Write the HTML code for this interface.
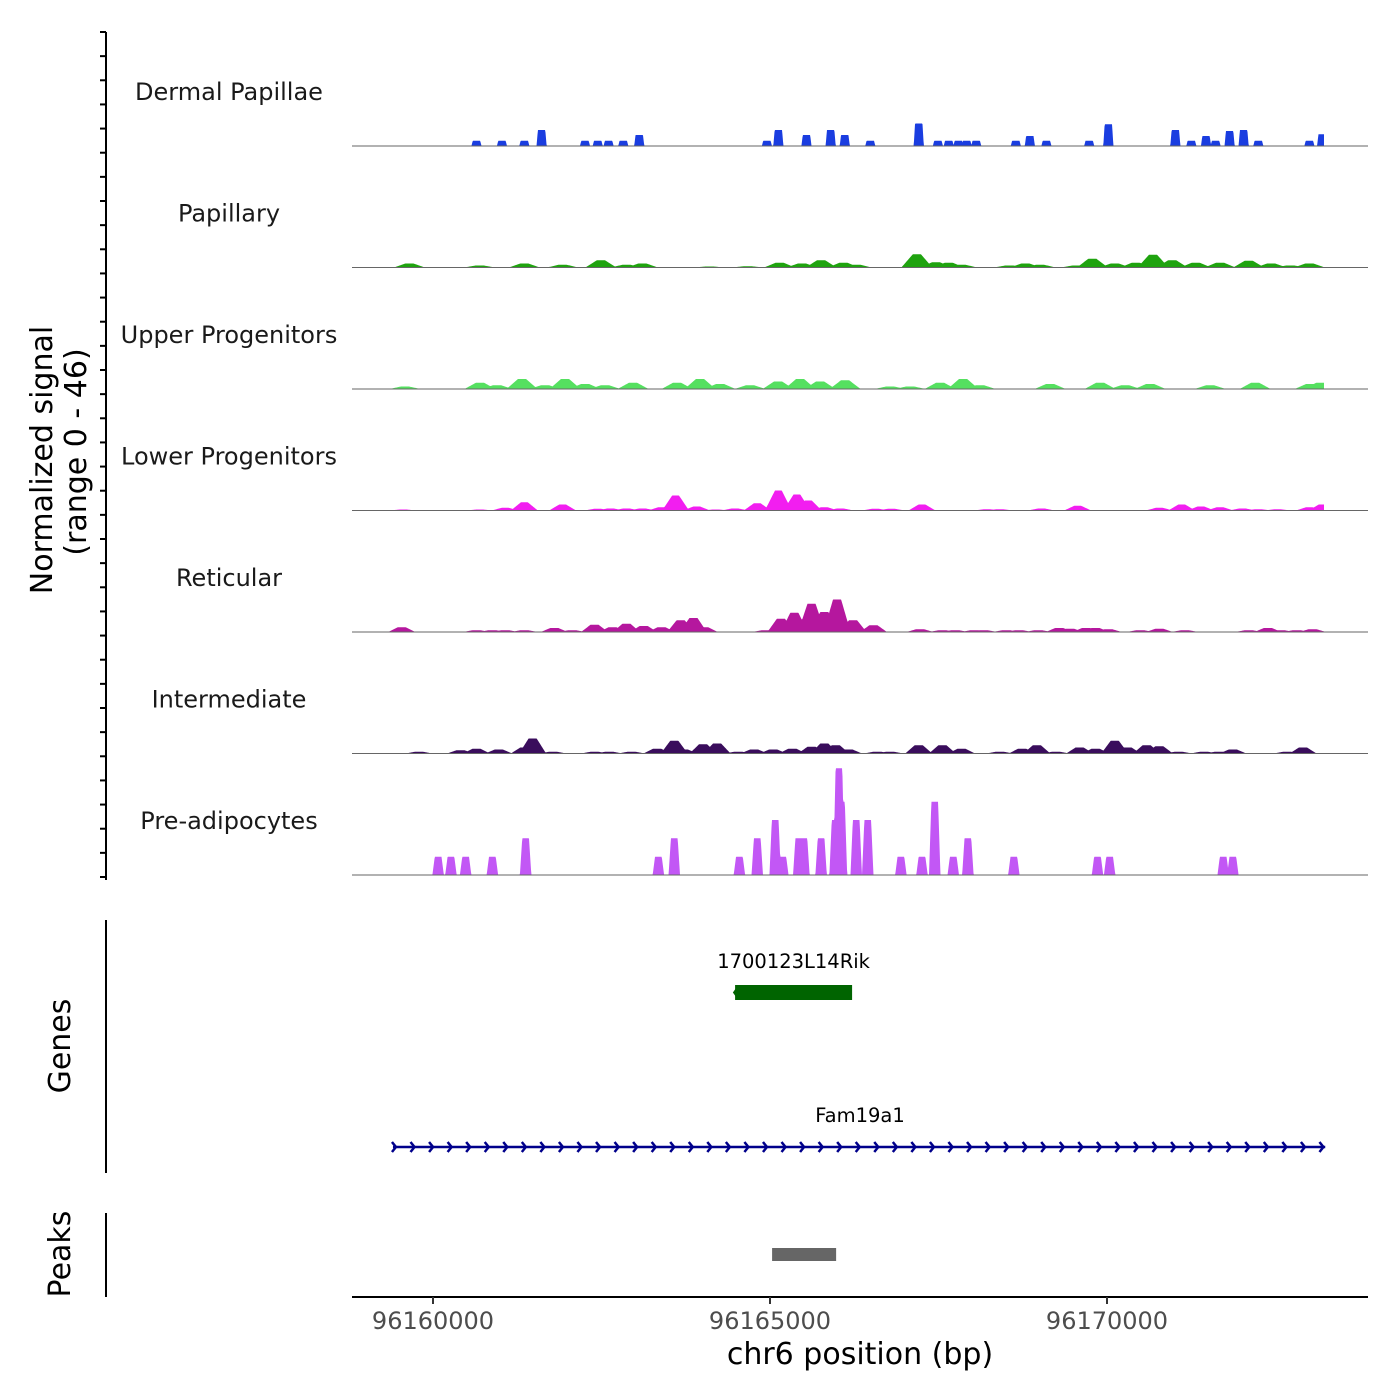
<!DOCTYPE html>
<html><head><meta charset="utf-8"><style>
html,body{margin:0;padding:0;background:#fff;}
svg{display:block;font-family:"DejaVu Sans","Liberation Sans",sans-serif;}
</style></head><body>
<svg id="chart" width="1400" height="1400" viewBox="0 0 1400 1400" xmlns="http://www.w3.org/2000/svg">
<rect x="0" y="0" width="1400" height="1400" fill="#fff"/>
<g id="tracks"></g>
<line x1="106" y1="32" x2="106" y2="880" stroke="#000" stroke-width="2"/>
<g id="yticks"></g>
<text transform="translate(52,460) rotate(-90)" text-anchor="middle" font-size="30" fill="#000">Normalized signal</text>
<text transform="translate(86,452) rotate(-90)" text-anchor="middle" font-size="30" fill="#000">(range 0 - 46)</text>
<line x1="106" y1="920" x2="106" y2="1173" stroke="#000" stroke-width="2"/>
<text transform="translate(70,1046) rotate(-90)" text-anchor="middle" font-size="30" fill="#000">Genes</text>
<line x1="106" y1="1213" x2="106" y2="1297" stroke="#000" stroke-width="2"/>
<text transform="translate(70,1254) rotate(-90)" text-anchor="middle" font-size="30" fill="#000">Peaks</text>
<g id="genes"></g>
<g id="peaks"></g>
<line x1="352" y1="1297" x2="1368" y2="1297" stroke="#000" stroke-width="2"/>
<g id="xticks"></g>
<text x="860" y="1364" text-anchor="middle" font-size="30" fill="#000">chr6 position (bp)</text>
</svg>
<script>
const origin = 96160000;
const xTickValues = [96160000, 96165000, 96170000];
const trackNames = ["Dermal Papillae","Papillary","Upper Progenitors","Lower Progenitors","Reticular","Intermediate","Pre-adipocytes"];
const trackColors = ["#1a3de0","#1fa30f","#55e060","#f21ef0","#b5179e","#3a0d5c","#c257f5"];
const dpPos = [645,1023,1355,1611,2255,2444,2605,2823,3060,4954,5124,5541,5900,6109,6488,7207,7491,7652,7795,7918,8060,8647,8855,9101,9736,10020,11014,11251,11469,11611,11819,12027,12245,13003,13192];
const dpVal = [2.1,2.1,2.1,6.4,2.1,2.1,2.1,2.1,4.4,2.1,6.4,4.4,6.4,4.4,2.1,9,2.1,2.1,2.1,2.1,2.1,2.1,4,2.1,2.1,8.7,6.4,2.1,4,2.1,6,6.4,2.1,2.1,4.7];
const papPos = [-350,692,1355,1923,2491,2870,3107,4101,4669,5143,5474,5758,6090,6279,7179,7463,7652,7842,8552,8789,9007,9547,9783,10115,10427,10683,10967,11317,11677,12103,12435,12719,13003];
const papVal = [1.6,0.8,1.6,1.1,2.9,1.1,1.6,0.4,0.5,1.9,1.6,2.9,1.9,1.1,5.3,2.1,1.9,1.1,0.8,1.6,1.1,0.8,3.5,1.6,1.9,5.1,2.9,1.9,1.9,2.7,1.6,0.8,1.6];
const upPos = [-416,697,950,1321,1662,1959,2256,2552,2968,3621,3962,4259,4704,5120,5446,5743,6114,6782,7079,7524,7865,8117,9156,9898,10269,10640,11530,12198,13014,13163];
const upVal = [1,2.5,1.5,4,1.5,4,2,1.5,2.5,2.5,4,2,1.5,3,4,3,3.5,1,1,2.5,4,1.5,2,2.5,1.5,2,1.5,2.5,2,2.5];
const lowPos = [-444,692,1071,1355,1923,2444,2633,2870,3107,3391,3599,3912,4196,4480,4811,5124,5399,5569,5806,6043,6563,6800,7255,8221,8410,9026,9565,10777,11109,11393,11677,12009,12245,12530,13003,13192];
const lowVal = [0.4,0.4,1.1,3.3,2.4,0.7,0.8,0.8,0.8,1.3,6,1.6,0.4,0.8,2.9,8,6.4,4,1.3,0.8,0.7,0.7,2.4,0.5,0.5,0.8,1.9,1.1,2.4,1.6,1.3,0.8,0.5,0.5,1.3,2.4];
const retPos = [-463,645,881,1071,1355,1800,2065,2397,2662,2870,3126,3391,3675,3864,4025,4935,5162,5361,5500,5616,5806,5995,6232,6535,7226,7558,7747,8031,8173,8505,8694,8978,9291,9452,9689,9831,10020,10493,10777,11156,12103,12387,12577,12814,13050];
const retVal = [1.9,0.7,0.7,0.7,0.7,1.6,0.7,2.9,1.9,3.3,2.4,1.9,4.7,5.6,1.9,0.7,5.3,7.7,5,11.3,8,13,4.7,2.7,1.1,0.7,0.7,0.7,0.7,0.7,0.7,0.7,1.6,1.3,1.6,1.6,1.1,0.7,1.3,0.7,0.7,1.6,0.7,0.7,1.1];
const intPos = [-208,408,645,976,1355,1478,1781,2397,2614,2946,3325,3580,3722,4007,4215,4527,4764,5048,5332,5616,5806,5976,6165,6592,6781,7207,7558,7842,8410,8741,8959,9243,9594,9831,10115,10304,10588,10777,11062,11440,11658,11867,12672,12908];
const intVal = [0.7,1.3,1.9,1.6,2.4,6,0.7,0.7,0.7,0.7,1.9,5.1,1.6,3.7,4,0.7,1.6,1.6,1.9,2.7,4,3.3,1.6,0.7,0.7,3.3,3.3,1.9,0.7,1.9,3.3,0.7,2.4,1.9,5.1,2.4,3.3,2.9,0.7,0.7,0.7,1.6,0.7,2.4];
const prePos = [76,266,484,881,1374,3344,3580,4546,4811,5077,5190,5427,5503,5758,5966,6023,6060,6279,6450,6942,7255,7444,7719,7936,8618,9859,10039,11724,11867];
const preVal = [7.3,7.3,7.3,7.3,14.7,7.3,14.7,7.3,14.7,22,7.3,14.7,14.7,14.7,22,42.7,29.3,22,22,7.3,7.3,29.3,7.3,14.7,7.3,7.3,7.3,7.3,7.3];
const geneStarts = [4482,-594];
const geneEnds = [6218,13238];
const geneNames = ["1700123L14Rik","Fam19a1"];
const peakStarts = [5031];
const peakEnds = [5981];

const NS="http://www.w3.org/2000/svg";
function el(tag, attrs, parent){const e=document.createElementNS(NS,tag);for(const k in attrs)e.setAttribute(k,attrs[k]);parent.appendChild(e);return e;}
const xScale = bp => 433 + (bp - origin) * 0.0674;
const yUnit = 2.5;
const baselines = [146,267.5,389,510.5,632,753.5,875];
const trackPos = [dpPos,papPos,upPos,lowPos,retPos,intPos,prePos];
const trackVal = [dpVal,papVal,upVal,lowVal,retVal,intVal,preVal];
const shapeHW = [75,230,230,200,200,200,85];
const shapeSlope = [20,170,170,150,140,140,35];
const tracksG = document.getElementById('tracks');
for(let t=0;t<7;t++){
  const b = baselines[t];
  const lab = el('text',{x:229,y:b-46,'text-anchor':'middle','font-size':'24',fill:'#1a1a1a'},tracksG);
  
  
  lab.textContent = trackNames[t];
  let d = 'M352,'+b;
  for(let px=352; px<=1324; px+=0.5){
    const bp = origin + (px-433)/0.0674;
    let v=0;
    const P=trackPos[t], V=trackVal[t];
    for(let i=0;i<P.length;i++){
      const dist=Math.abs(bp-(origin+P[i]));
      const f=Math.max(0,Math.min(1,(shapeHW[t]-dist)/shapeSlope[t]));
      if(V[i]*f>v)v=V[i]*f;
    }
    d+=' L'+px+','+(b - v*yUnit).toFixed(2);
  }
  d+=' L1324,'+b+' Z';
  const area = el('path',{d:d,fill:trackColors[t],stroke:'none'},tracksG);
  
  
  const bl = el('line',{x1:352,x2:1368,y1:b,y2:b,stroke:'#666','stroke-width':1},tracksG);
  
  
}
const yt=document.getElementById('yticks');
for(let i=0;i<36;i++){
  const y=32+i*(877-32)/35;
  const tk=el('line',{x1:100,x2:106,y1:y,y2:y,stroke:'#000','stroke-width':2},yt);
  
  
}
const xt=document.getElementById('xticks');
xTickValues.forEach(v=>{
  const x=xScale(v);
  const tk=el('line',{x1:x,x2:x,y1:1297,y2:1304,stroke:'#333','stroke-width':2},xt);
  
  
  const tl=el('text',{x:x,y:1329,'text-anchor':'middle','font-size':'24',fill:'#4d4d4d'},xt);
  
  
  tl.textContent=v;
});
const gg=document.getElementById('genes');
{
  const x1=xScale(origin+geneStarts[0]), x2=xScale(origin+geneEnds[0]);
  const r=el('rect',{x:x1,y:985,width:x2-x1,height:15,fill:'#006400'},gg);
  
  
  el('path',{d:`M${x1+3},987 L${x1-1},992.5 L${x1+3},998`,stroke:'#006400','stroke-width':2,fill:'none'},gg);
  const t=el('text',{x:(x1+x2)/2,y:968,'text-anchor':'middle','font-size':'19.5',fill:'#000'},gg);
  
  
  t.textContent=geneNames[0];
}
{
  const x1=xScale(origin+geneStarts[1]), x2=xScale(origin+geneEnds[1]);
  const ln=el('line',{x1:x1,x2:x2,y1:1147,y2:1147,stroke:'#00008b','stroke-width':2.5},gg);
  
  
  let d='';
  for(let x=x1+3;x<=x2+1;x+=18.55){d+=`M${x-4},1142 L${x},1147 L${x-4},1152 `;}
  el('path',{d:d,stroke:'#00008b','stroke-width':2.5,fill:'none'},gg);
  const t=el('text',{x:860,y:1122,'text-anchor':'middle','font-size':'19.5',fill:'#000'},gg);
  
  
  t.textContent=geneNames[1];
}
const pg=document.getElementById('peaks');
peakStarts.forEach((s,i)=>{
  const x1=xScale(origin+s), x2=xScale(origin+peakEnds[i]);
  const r=el('rect',{x:x1,y:1248,width:x2-x1,height:13,fill:'#666'},pg);
  
  
});
</script>
</body></html>
